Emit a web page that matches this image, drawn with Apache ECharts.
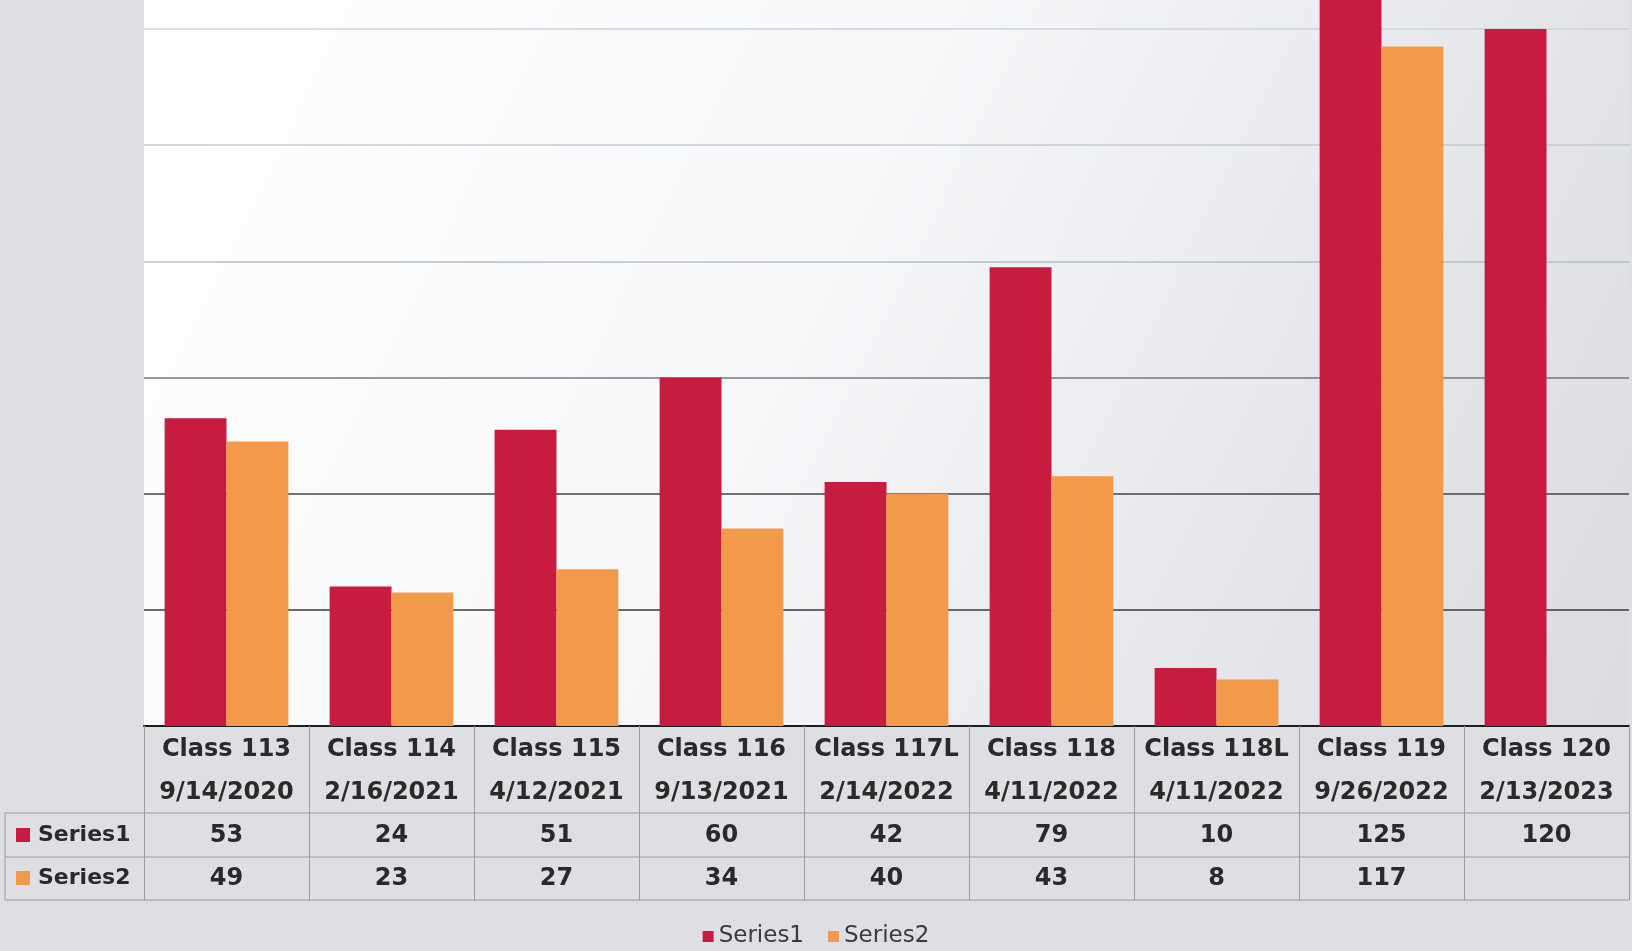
<!DOCTYPE html>
<html>
<head>
<meta charset="utf-8">
<script src="https://cdn.jsdelivr.net/npm/echarts@6/dist/echarts.min.js"></script>
<style>
  html, body { margin: 0; padding: 0; background: #dedfe3; }
  #chart { width: 1632px; height: 951px; }
</style>
</head>
<body>
<div id="chart"></div>
<script>
const categories = ['Class 113', 'Class 114', 'Class 115', 'Class 116', 'Class 117L', 'Class 118', 'Class 118L', 'Class 119', 'Class 120'];
const dates = ['9/14/2020', '2/16/2021', '4/12/2021', '9/13/2021', '2/14/2022', '4/11/2022', '4/11/2022', '9/26/2022', '2/13/2023'];
const series1 = [53, 24, 51, 60, 42, 79, 10, 125, 120];
const series2 = [49, 23, 27, 34, 40, 43, 8, 117, null];
const seriesNames = ['Series1', 'Series2'];
const colors = ['#c71b40', '#f2994a'];

const FONT = 'DejaVu Sans';
const W = 1632;
const gridLeft = 144, gridRight = 3;
const baseY = 726;           // x axis line
const rowH = 43;             // data table row height
const tableBottom = baseY + 174;

const chart = echarts.init(document.getElementById('chart'));

// data table lines
const tableRows = [baseY + 87, baseY + 131, tableBottom];
const graphics = tableRows.map(y => ({
  type: 'line',
  shape: { x1: 5, y1: y, x2: W - gridRight, y2: y },
  style: { stroke: '#9c9c9c', lineWidth: 1 },
  silent: true
}));
graphics.push({
  type: 'line',
  shape: { x1: 5, y1: baseY + 87, x2: 5, y2: tableBottom },
  style: { stroke: '#9c9c9c', lineWidth: 1 },
  silent: true
});
seriesNames.forEach((name, i) => {
  const cy = baseY + 109 + i * rowH;
  graphics.push({
    type: 'rect',
    shape: { x: 16, y: cy - 7, width: 14, height: 14 },
    style: { fill: colors[i] },
    silent: true
  });
  graphics.push({
    type: 'text',
    x: 38, y: cy,
    style: {
      text: name, fill: '#2a2a2a', font: 'bold 22px "' + FONT + '"',
      verticalAlign: 'middle', align: 'left'
    },
    silent: true
  });
});

const option = {
  backgroundColor: '#dedfe3',
  animation: false,
  grid: {
    left: gridLeft,
    right: gridRight,
    top: 0,
    bottom: 951 - baseY,
    show: true,
    borderWidth: 0,
    backgroundColor: new echarts.graphic.LinearGradient(0, 0, 1, 1, [
      { offset: 0, color: '#ffffff' },
      { offset: 0.45, color: '#f6f7f9' },
      { offset: 0.8, color: '#e2e4e8' },
      { offset: 1, color: '#dadce0' }
    ])
  },
  legend: {
    data: seriesNames,
    left: 'center',
    top: 920,
    icon: 'rect',
    itemWidth: 11,
    itemHeight: 11,
    itemGap: 24,
    textStyle: { fontFamily: FONT, fontSize: 23, color: '#3a3a3a' }
  },
  xAxis: {
    type: 'category',
    data: categories,
    axisLine: { lineStyle: { color: '#1e1e1e', width: 2 } },
    axisTick: { show: true, length: 174, lineStyle: { color: '#9c9c9c', width: 1 } },
    axisLabel: {
      interval: 0,
      margin: 2,
      formatter: (value, idx) => {
        const v1 = series1[idx] == null ? ' ' : series1[idx];
        const v2 = series2[idx] == null ? ' ' : series2[idx];
        return '{c|' + value + '}\n{c|' + dates[idx] + '}\n{c|' + v1 + '}\n{c|' + v2 + '}';
      },
      rich: {
        c: { fontFamily: FONT, fontSize: 24, fontWeight: 'bold', color: '#2a2a2a', lineHeight: rowH, align: 'center' }
      }
    }
  },
  yAxis: {
    type: 'value',
    min: 0,
    max: 125,
    interval: 20,
    axisLabel: { show: false },
    axisLine: { show: false },
    axisTick: { show: false },
    splitLine: {
      lineStyle: {
        // 0,20,...,120 then the axis max (hidden)
        color: ['#222222', '#3a3a3a', '#444444', '#7a7a7e', '#b9bcc2', '#c6c9ce', '#cfd2d7', 'rgba(0,0,0,0)'],
        width: 1.5
      }
    }
  },
  series: [
    {
      name: seriesNames[0],
      type: 'bar',
      data: series1,
      barGap: '0%',
      barCategoryGap: '25%',
      itemStyle: { color: colors[0] }
    },
    {
      name: seriesNames[1],
      type: 'bar',
      data: series2,
      barGap: '0%',
      barCategoryGap: '25%',
      itemStyle: { color: colors[1] }
    }
  ],
  graphic: graphics
};

chart.setOption(option);
</script>
</body>
</html>
